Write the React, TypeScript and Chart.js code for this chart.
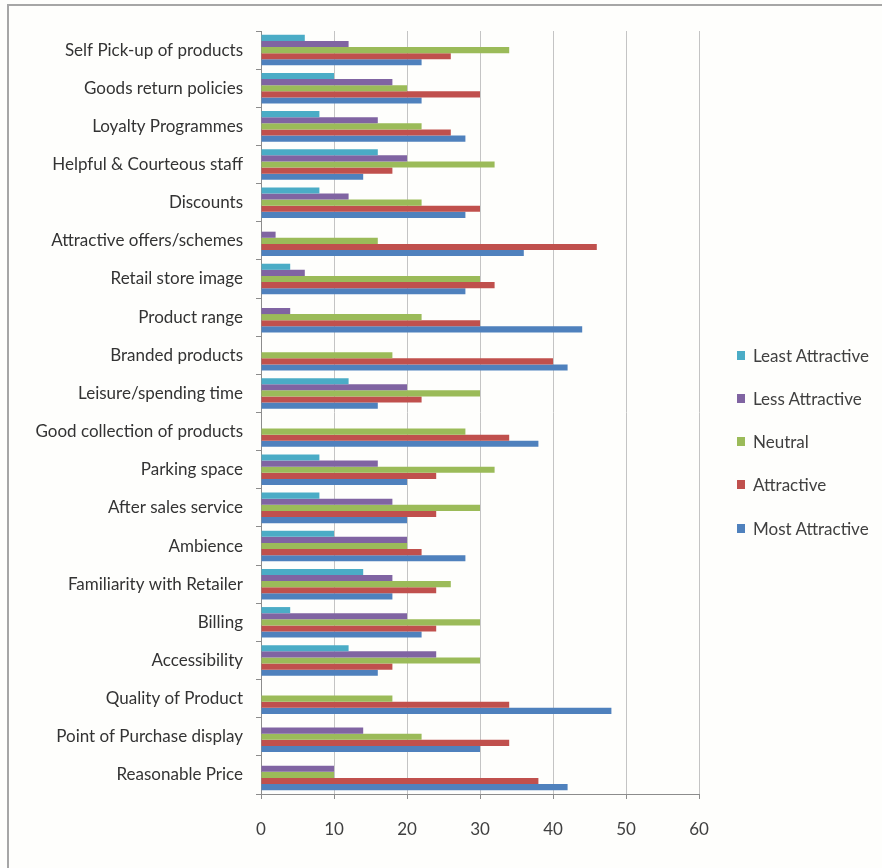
import React, { useEffect, useRef } from "react";
import { Chart, registerables } from "chart.js";

Chart.register(...registerables);

const categories = [
  "Self Pick-up of products",
  "Goods return policies",
  "Loyalty Programmes",
  "Helpful & Courteous staff",
  "Discounts",
  "Attractive offers/schemes",
  "Retail store image",
  "Product range",
  "Branded products",
  "Leisure/spending time",
  "Good collection of products",
  "Parking space",
  "After sales service",
  "Ambience",
  "Familiarity with Retailer",
  "Billing",
  "Accessibility",
  "Quality of Product",
  "Point of Purchase display",
  "Reasonable Price",
];

const leastAttractive = [6, 10, 8, 16, 8, 0, 4, 0, 0, 12, 0, 8, 8, 10, 14, 4, 12, 0, 0, 0];
const lessAttractive = [12, 18, 16, 20, 12, 2, 6, 4, 0, 20, 0, 16, 18, 20, 18, 20, 24, 0, 14, 10];
const neutral = [34, 20, 22, 32, 22, 16, 30, 22, 18, 30, 28, 32, 30, 20, 26, 30, 30, 18, 22, 10];
const attractive = [26, 30, 26, 18, 30, 46, 32, 30, 40, 22, 34, 24, 24, 22, 24, 24, 18, 34, 34, 38];
const mostAttractive = [22, 22, 28, 14, 28, 36, 28, 44, 42, 16, 38, 20, 20, 28, 18, 22, 16, 48, 30, 42];

const seriesNames = ["Least Attractive", "Less Attractive", "Neutral", "Attractive", "Most Attractive"];
const seriesColors = ["#4BACC6", "#8064A2", "#9BBB59", "#C0504D", "#4F81BD"];
const seriesData = [leastAttractive, lessAttractive, neutral, attractive, mostAttractive];

const xTicks = [0, 10, 20, 30, 40, 50, 60];

const FONT = "Lato, 'Open Sans', sans-serif";

export default function App() {
  const ref = useRef<HTMLCanvasElement | null>(null);

  useEffect(() => {
    if (!ref.current) return;
    const chart = new Chart(ref.current, {
      type: "bar",
      data: {
        labels: categories,
        datasets: seriesNames.map((name, i) => ({
          label: name,
          data: seriesData[i],
          backgroundColor: seriesColors[i],
          borderWidth: 0,
          categoryPercentage: 0.8,
          barPercentage: 1.0,
        })),
      },
      options: {
        indexAxis: "y",
        animation: false,
        responsive: false,
        maintainAspectRatio: false,
        layout: { padding: { left: 0, right: 183, top: 31, bottom: 0 } },
        plugins: {
          legend: { display: false },
          tooltip: { enabled: false },
        },
        scales: {
          x: {
            min: 0,
            max: 60,
            afterFit: (scale: any) => {
              scale.height = 74;
            },
            afterBuildTicks: (scale: any) => {
              scale.ticks = xTicks.map((v) => ({ value: v }));
            },
            grid: {
              color: "#c4c4c4",
              lineWidth: 1,
              tickLength: 5,
              tickColor: "#8c8c8c",
            },
            border: { color: "#8c8c8c", width: 1 },
            ticks: {
              padding: 20,
              color: "#404040",
              font: { family: FONT, size: 17 },
            },
          },
          y: {
            afterFit: (scale: any) => {
              scale.width = 261;
            },
            grid: {
              drawOnChartArea: false,
              offset: true,
              tickLength: 5,
              tickColor: "#8c8c8c",
            },
            border: { color: "#8c8c8c", width: 1 },
            ticks: {
              padding: 13,
              color: "#333333",
              font: { family: FONT, size: 17 },
              autoSkip: false,
            },
          },
        },
      },
    });
    return () => chart.destroy();
  }, []);

  return (
    <div
      style={{
        position: "fixed",
        left: 0,
        top: 0,
        width: 882,
        height: 868,
        background: "#fefefc",
        overflow: "hidden",
      }}
    >
      <div
        style={{
          position: "absolute",
          left: 7,
          top: 4,
          width: 900,
          height: 900,
          borderTop: "2px solid #a6a6a6",
          borderLeft: "2px solid #a6a6a6",
          boxSizing: "border-box",
        }}
      />
      <canvas
        ref={ref}
        width={882}
        height={868}
        style={{ position: "absolute", left: 0, top: 0, width: 882, height: 868 }}
      />
      <div style={{ position: "absolute", left: 737, top: 0 }}>
        {seriesNames.map((name, i) => (
          <div
            key={name}
            style={{
              position: "absolute",
              left: 0,
              top: 343 + i * 43.3,
              display: "flex",
              alignItems: "center",
              whiteSpace: "nowrap",
              fontFamily: FONT,
              fontSize: 17,
              color: "#404040",
              height: 24,
            }}
          >
            <span
              style={{
                display: "inline-block",
                width: 8,
                height: 9,
                background: seriesColors[i],
                marginRight: 8,
              }}
            />
            {name}
          </div>
        ))}
      </div>
    </div>
  );
}
